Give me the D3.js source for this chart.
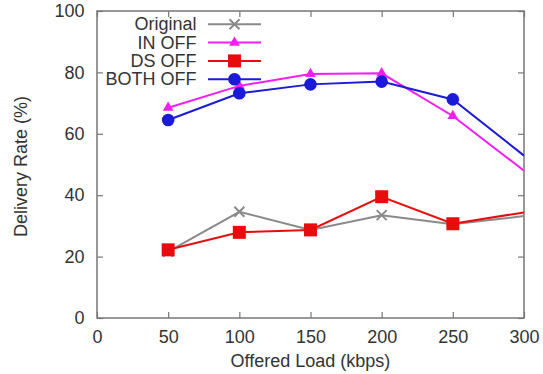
<!DOCTYPE html>
<html>
<head>
<meta charset="utf-8">
<script src="https://cdn.jsdelivr.net/npm/d3@7"></script>
<style>
  body { margin: 0; background: #fff; }
  text { font-family: "Liberation Sans", Arial, sans-serif; }
</style>
</head>
<body>
<div id="chart"></div>
<script>
// offered load (kbps)
const loads = [50, 100, 150, 200, 250, 300];
const original = [21.6, 34.6, 28.7, 33.5, 30.5, 33.2];
const inOff = [68.5, 75.6, 79.5, 79.7, 65.8, 48.0];
const dsOff = [22.2, 27.9, 28.7, 39.5, 30.7, 34.4];
const bothOff = [64.5, 73.2, 76.1, 77.0, 71.2, 52.9];
const xTicks = [0, 50, 100, 150, 200, 250, 300];
const yTicks = [0, 20, 40, 60, 80, 100];

const series = [
    { name: 'Original', values: original, color: '#8a8a8a', marker: 'cross' },
    { name: 'IN OFF', values: inOff, color: '#f01ef0', marker: 'triangle' },
    { name: 'DS OFF', values: dsOff, color: '#e80c0c', marker: 'square' },
    { name: 'BOTH OFF', values: bothOff, color: '#1a1ad8', marker: 'circle' }
];

const width = 543, height = 374;
const margin = { left: 97, right: 19, top: 11, bottom: 56 };
const w = width - margin.left - margin.right;
const h = height - margin.top - margin.bottom;
const fontSize = '18px';

const svg = d3.select('#chart').append('svg')
    .attr('width', width)
    .attr('height', height);

const x = d3.scaleLinear().domain([0, 300]).range([0, w]);
const y = d3.scaleLinear().domain([0, 100]).range([h, 0]);

const g = svg.append('g').attr('transform', `translate(${margin.left},${margin.top})`);

svg.append('defs').append('clipPath').attr('id', 'clip')
    .append('rect').attr('width', w).attr('height', h);

// axes with inward ticks, mirrored on top/right
const axisColor = '#777';
const tickLen = 6;
g.append('g').attr('transform', `translate(0,${h})`)
    .call(d3.axisBottom(x).tickValues(xTicks).tickSizeInner(-tickLen).tickSizeOuter(0).tickPadding(12));
g.append('g')
    .call(d3.axisLeft(y).tickValues(yTicks).tickSizeInner(-tickLen).tickSizeOuter(0).tickPadding(12.5));
g.append('g')
    .call(d3.axisTop(x).tickValues(xTicks).tickSizeInner(-tickLen).tickSizeOuter(0).tickFormat(''));
g.append('g').attr('transform', `translate(${w},0)`)
    .call(d3.axisRight(y).tickValues(yTicks).tickSizeInner(-tickLen).tickSizeOuter(0).tickFormat(''));

g.selectAll('.domain').remove();
g.selectAll('.tick line').attr('stroke', axisColor).attr('stroke-width', 1.2);
g.selectAll('.tick text').attr('fill', '#333')
    .style('font-family', '"Liberation Sans", Arial, sans-serif')
    .style('font-size', fontSize);

g.append('rect')
    .attr('width', w).attr('height', h)
    .attr('fill', 'none').attr('stroke', axisColor).attr('stroke-width', 1.5);

// axis titles
svg.append('text')
    .attr('x', margin.left + w / 2).attr('y', 367)
    .attr('text-anchor', 'middle')
    .attr('fill', '#333').style('font-size', fontSize)
    .text('Offered Load (kbps)');
svg.append('text')
    .attr('transform', `translate(26.5,166.5) rotate(-90)`)
    .attr('text-anchor', 'middle')
    .attr('fill', '#333').style('font-size', fontSize)
    .text('Delivery Rate (%)');

function drawMarker(sel, type, color) {
    if (type === 'cross') {
        sel.append('path').attr('d', 'M-5,-5L5,5M-5,5L5,-5')
            .attr('stroke', color).attr('stroke-width', 2);
    } else if (type === 'triangle') {
        sel.append('path').attr('d', d3.symbol(d3.symbolTriangle, 50)())
            .attr('fill', color);
    } else if (type === 'square') {
        sel.append('rect').attr('x', -6.5).attr('y', -6.5).attr('width', 13).attr('height', 13)
            .attr('fill', color);
    } else {
        sel.append('circle').attr('r', 6.3).attr('fill', color);
    }
}

const line = d3.line()
    .x((d, i) => x(loads[i]))
    .y(d => y(d));

const plot = g.append('g').attr('clip-path', 'url(#clip)');

series.forEach(s => {
    plot.append('path')
        .datum(s.values)
        .attr('d', line)
        .attr('fill', 'none')
        .attr('stroke', s.color)
        .attr('stroke-width', 2);
});

series.forEach(s => {
    s.values.forEach((v, i) => {
        if (loads[i] >= 300) return;
        const m = plot.append('g').attr('transform', `translate(${x(loads[i])},${y(v)})`);
        drawMarker(m, s.marker, s.color);
    });
});

// legend
series.forEach((s, i) => {
    const ly = 24.3 + i * 18.3;
    svg.append('text')
        .attr('x', 196.5).attr('y', ly + 6)
        .attr('text-anchor', 'end')
        .attr('fill', '#333').style('font-size', fontSize)
        .text(s.name);
    svg.append('line')
        .attr('x1', 208).attr('x2', 261).attr('y1', ly).attr('y2', ly)
        .attr('stroke', s.color).attr('stroke-width', 2);
    const m = svg.append('g').attr('transform', `translate(234.5,${ly})`);
    drawMarker(m, s.marker, s.color);
});
</script>
</body>
</html>
